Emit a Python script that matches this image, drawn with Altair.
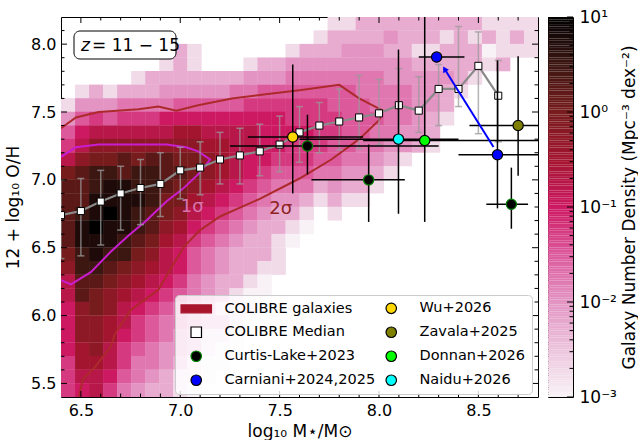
import altair as alt
import numpy as np
import pandas as pd

# ------------------------------------------------------------------ data
X_DOMAIN = [6.4, 8.8]
Y_DOMAIN = [5.4, 8.2]
Y_BIN = 0.1

# 2D histogram: one string per stellar-mass column (34 columns, 6.4 -> 8.8),
# characters run from the top O/H bin (8.1-8.2) down to the bottom bin (5.4-5.5).
# '.' = empty, 'a' = 1e-3, each next letter +0.25 dex ('m' = 1, 'q' = 10)
DENSITY_COLUMNS = [
    "......beghjmnnnnnmljjiiiihhh",
    ".....begijlnnnoppoonnlllkkji",
    ".....dehjlmooppqpponmmlllkjj",
    ".....begjlmoppqpponmllkkjjih",
    ".....dfhjlnnppppoomlkjjihhgf",
    "....bdfhjlmoopoonmlkjihhgffe",
    "....ddfhjlnooonnmlkjihggffed",
    "..dbdefijlnnnmmlkjjihgffeedd",
    "..dddegiklmnmmlkjiihgffeedbb",
    "..bbdegiklmmlkjihggffeeddbba",
    "....degijkllkjihgffeeddbbaa.",
    "....degijkkkjihgfeeddbdbaa..",
    "....dfgijjjjihgfedddbbbaa...",
    "...befhijjiihgfedddbaba.....",
    "...deghiiiihgfedddbaa.......",
    "...deghiiihgfeddbbb.........",
    "..befghhihhgfedba...........",
    "..defghhihhgfdba............",
    ".bdefghhhhgfdb..............",
    "bddefgghhggfedb.............",
    "bdeefgggggfedb..............",
    "ddeeffgggffedb..............",
    "ddeefffgffedb...............",
    "dedeeffffedb................",
    "dddeefffeeb.................",
    "ddbdeeeeed..................",
    "ddbdeeeddb..................",
    "dbddeddb....................",
    "dddddb......................",
    "dbddb.......................",
    "bdab........................",
    "bbbd........................",
    "bdb.........................",
    "bbb.........................",
]

# COLIBRE median relation
MED_X = [6.4, 6.5, 6.6, 6.7, 6.8, 6.9, 7.0, 7.1, 7.2, 7.3, 7.4, 7.5,
         7.6, 7.7, 7.8, 7.9, 8.0, 8.1, 8.2, 8.3, 8.4, 8.5, 8.6]
MED_Y = [6.74, 6.77, 6.84, 6.90, 6.94, 6.97, 7.07, 7.09, 7.15, 7.18, 7.21, 7.26,
         7.35, 7.40, 7.43, 7.46, 7.49, 7.55, 7.51, 7.67, 7.67, 7.84, 7.62]
MED_LO = [6.42, 6.44, 6.52, 6.63, 6.67, 6.73, 6.86, 6.89, 6.97, 6.97, 7.03, 7.06,
          7.13, 7.20, 7.22, 7.23, 7.26, 7.32, 7.35, 7.40, 7.54, 7.34, 7.28]
MED_HI = [7.00, 7.01, 7.07, 7.10, 7.15, 7.20, 7.24, 7.28, 7.35, 7.38, 7.41, 7.47,
          7.54, 7.57, 7.67, 7.77, 7.74, 7.82, 7.76, 7.85, 8.13, 8.09, 7.88]

# density contours
C1_X = [6.40, 6.475, 6.59, 6.76, 6.93, 7.03, 7.09, 7.15, 7.13, 7.09, 7.01, 6.93,
        6.83, 6.74, 6.65, 6.55, 6.45, 6.40]
C1_Y = [7.17, 7.24, 7.26, 7.26, 7.26, 7.24, 7.21, 7.15, 7.11, 7.04, 6.93, 6.84,
        6.70, 6.59, 6.47, 6.32, 6.23, 6.26]
C2_X = [6.40, 6.475, 6.59, 6.79, 6.89, 6.98, 7.09, 7.26, 7.43, 7.60, 7.80, 7.90,
        8.02, 8.00, 7.90, 7.76, 7.60, 7.40, 7.20, 7.10, 7.02, 6.95, 6.89, 6.75,
        6.67, 6.65, 6.57, 6.51, 6.49]
C2_Y = [7.38, 7.46, 7.50, 7.52, 7.54, 7.51, 7.55, 7.60, 7.63, 7.66, 7.70, 7.60,
        7.51, 7.44, 7.30, 7.15, 7.01, 6.86, 6.73, 6.63, 6.51, 6.34, 6.19, 6.04,
        5.86, 5.77, 5.62, 5.53, 5.40]
CONTOUR_LABELS = ["1σ", "2σ"]
CONTOUR_LABEL_X = [7.06, 7.505]
CONTOUR_LABEL_Y = [6.80, 6.785]

# observations
OBS_NAME = ["Wu+2026", "Curtis-Lake+2023", "Curtis-Lake+2023", "Curtis-Lake+2023",
            "Carniani+2024,2025", "Carniani+2024,2025", "Zavala+2025",
            "Donnan+2026", "Naidu+2026"]
OBS_X = [7.566, 7.64, 7.948, 8.666, 8.29, 8.596, 8.70, 8.23, 8.098]
OBS_Y = [7.316, 7.25, 7.00, 6.82, 7.905, 7.185, 7.40, 7.29, 7.30]
OBS_XLO = [7.34, 7.25, 7.66, 8.54, 8.20, 8.40, 8.455, 7.92, 7.60]
OBS_XHI = [7.92, 8.30, 8.13, 8.75, 8.43, 8.95, 8.95, 8.95, 8.40]
OBS_YLO = [6.90, 7.04, 6.69, 6.64, 7.905, 6.79, 7.03, 6.69, 6.75]
OBS_YHI = [7.85, 7.48, 7.26, 7.09, 7.905, 7.88, 7.91, 8.40, 7.96]

ARROW_X = [8.576, 8.33]
ARROW_Y = [7.242, 7.817]

# legend (column-major order, 2 columns)
LEG_LABELS = ["COLIBRE galaxies", "COLIBRE Median", "Curtis-Lake+2023", "Carniani+2024,2025",
              "Wu+2026", "Zavala+2025", "Donnan+2026", "Naidu+2026"]
LEG_FILL = ["#a8142c", "#ffffff", "#000000", "#0000ff",
            "#ffd700", "#808000", "#00ff00", "#00ffff"]
LEG_STROKE = ["#a8142c", "#000000", "#008000", "#000000",
              "#000000", "#000000", "#000000", "#000000"]
PATCH = "M-2.9,-0.75L2.9,-0.75L2.9,0.75L-2.9,0.75Z"
LEG_SHAPE = [PATCH, "square", "circle", "circle", "circle", "circle", "circle", "circle"]

# colour map (log10 density -> colour)
CB_LOG = [-3, -2.5, -2, -1.5, -1, -0.5, 0, 0.5, 1]
CB_COLORS = ["#f8f2f6", "#ecc4dc", "#e394c3", "#dc5a9c", "#cd1862",
             "#a3152f", "#771c1d", "#3c1611", "#000000"]
CB_TICKS = [1e-3, 1e-2, 1e-1, 1, 10]

X_MAJOR = [6.5, 7.0, 7.5, 8.0, 8.5]
Y_MAJOR = [5.5, 6.0, 6.5, 7.0, 7.5, 8.0]

# ------------------------------------------------------------------ build
W, H = 477, 380
FONT = "DejaVu Sans"

nx = len(DENSITY_COLUMNS)
xw = (X_DOMAIN[1] - X_DOMAIN[0]) / nx
recs = []
for i, col in enumerate(DENSITY_COLUMNS):
    for k, ch in enumerate(col):
        if ch == ".":
            continue
        lg = -3 + 0.25 * (ord(ch) - ord("a"))
        recs.append({
            "x0": X_DOMAIN[0] + i * xw,
            "x1": X_DOMAIN[0] + (i + 1) * xw + 0.002,
            "y0": Y_DOMAIN[1] - (k + 1) * Y_BIN,
            "y1": Y_DOMAIN[1] - k * Y_BIN + 0.002,
            "dens": 10 ** lg,
        })
heat_df = pd.DataFrame(recs)

xscale = alt.Scale(domain=X_DOMAIN, nice=False, zero=False)
yscale = alt.Scale(domain=Y_DOMAIN, nice=False, zero=False)
xaxis = alt.Axis(values=X_MAJOR, format=".1f", ticks=False, tickSize=0, domain=False,
                 grid=False, labelFontSize=16, labelPadding=5, labelOverlap=False,
                 title="log₁₀ M⋆/M⊙", titleFontSize=17, titleFontWeight="normal",
                 titlePadding=5)
yaxis = alt.Axis(values=Y_MAJOR, format=".1f", ticks=False, tickSize=0, domain=False,
                 grid=False, labelFontSize=16, labelPadding=5, labelOverlap=False,
                 title="12 + log₁₀ O/H", titleFontSize=17, titleFontWeight="normal",
                 titlePadding=8)


def X(f):
    return alt.X(f"{f}:Q", scale=xscale, axis=xaxis)


def Y(f):
    return alt.Y(f"{f}:Q", scale=yscale, axis=yaxis)


cscale = alt.Scale(type="log", domain=[10 ** v for v in CB_LOG], range=CB_COLORS,
                   interpolate="rgb")

legend = alt.Legend(title=None, orient="none", legendX=114, legendY=278, columns=2,
                    fillColor="rgba(255,255,255,0.8)", strokeColor="#cccccc",
                    cornerRadius=4, padding=6, symbolSize=110, symbolStrokeWidth=1.2,
                    labelFont=FONT, labelFontSize=14.5, labelColor="black",
                    labelOffset=21, symbolOffset=8, columnPadding=0, rowPadding=8,
                    labelLimit=400, zindex=1)
fill_enc = alt.Fill("label:N", scale=alt.Scale(domain=LEG_LABELS, range=LEG_FILL), legend=legend)
stroke_enc = alt.Stroke("label:N", scale=alt.Scale(domain=LEG_LABELS, range=LEG_STROKE), legend=legend)
shape_enc = alt.Shape("label:N", scale=alt.Scale(domain=LEG_LABELS, range=LEG_SHAPE), legend=legend)

heat = alt.Chart(heat_df).mark_rect(clip=True).encode(
    x=X("x0"), x2="x1", y=Y("y0"), y2="y1",
    color=alt.Color("dens:Q", scale=cscale, legend=None))

c1 = alt.Chart(pd.DataFrame({"x": C1_X, "y": C1_Y, "o": range(len(C1_X))})).mark_line(
    color="#c81ecf", strokeWidth=2, clip=True).encode(x=X("x"), y=Y("y"), order="o:Q")
c2 = alt.Chart(pd.DataFrame({"x": C2_X, "y": C2_Y, "o": range(len(C2_X))})).mark_line(
    color="#ad2a2c", strokeWidth=2, clip=True).encode(x=X("x"), y=Y("y"), order="o:Q")

lab_df = pd.DataFrame({"x": CONTOUR_LABEL_X, "y": CONTOUR_LABEL_Y, "t": CONTOUR_LABELS})
lab1 = alt.Chart(lab_df.iloc[[0]]).mark_text(font=FONT, fontSize=18, color="#d873ad").encode(
    x=X("x"), y=Y("y"), text="t:N")
lab2 = alt.Chart(lab_df.iloc[[1]]).mark_text(font=FONT, fontSize=18, color="#8e2323").encode(
    x=X("x"), y=Y("y"), text="t:N")

med_df = pd.DataFrame({"x": MED_X, "y": MED_Y, "lo": MED_LO, "hi": MED_HI,
                       "label": ["COLIBRE Median"] * len(MED_X)})
med_err = alt.Chart(med_df).mark_rule(color="#9a9a9a", opacity=0.75, strokeWidth=1.5,
                                      clip=True).encode(x=X("x"), y=Y("lo"), y2="hi")
med_cap_lo = alt.Chart(med_df).mark_tick(color="#9a9a9a", opacity=0.75, thickness=1.5,
                                         size=7, orient="horizontal", clip=True).encode(
    x=X("x"), y=Y("lo"))
med_cap_hi = alt.Chart(med_df).mark_tick(color="#9a9a9a", opacity=0.75, thickness=1.5,
                                         size=7, orient="horizontal", clip=True).encode(
    x=X("x"), y=Y("hi"))
med_line = alt.Chart(med_df).mark_line(color="#8a8a8a", strokeWidth=2.2, clip=True).encode(
    x=X("x"), y=Y("y"), order="x:Q")
med_pts = alt.Chart(med_df).mark_point(filled=True, size=50, strokeWidth=1, opacity=1,
                                       clip=True).encode(
    x=X("x"), y=Y("y"), fill=fill_enc, stroke=stroke_enc, shape=shape_enc)

obs_df = pd.DataFrame({"label": OBS_NAME, "x": OBS_X, "y": OBS_Y, "xlo": OBS_XLO,
                       "xhi": OBS_XHI, "ylo": OBS_YLO, "yhi": OBS_YHI})
obs_h = alt.Chart(obs_df).mark_rule(color="black", strokeWidth=1.5, clip=True).encode(
    x=X("xlo"), x2="xhi", y=Y("y"))
obs_v = alt.Chart(obs_df).mark_rule(color="black", strokeWidth=1.5, clip=True).encode(
    x=X("x"), y=Y("ylo"), y2="yhi")
obs_pts = alt.Chart(obs_df).mark_point(filled=True, size=105, strokeWidth=1.2, opacity=1,
                                       clip=True).encode(
    x=X("x"), y=Y("y"), fill=fill_enc, stroke=stroke_enc, shape=shape_enc)

# arrow (direction angle from the pixel aspect of the axes)
dxp = (ARROW_X[1] - ARROW_X[0]) * W / (X_DOMAIN[1] - X_DOMAIN[0])
dyp = (ARROW_Y[1] - ARROW_Y[0]) * H / (Y_DOMAIN[1] - Y_DOMAIN[0])
ang = float(np.degrees(np.arctan2(dxp, dyp))) % 360
arrow_df = pd.DataFrame({"x": ARROW_X, "y": ARROW_Y, "o": [0, 1]})
arrow_line = alt.Chart(arrow_df).mark_line(color="#0000ff", strokeWidth=2).encode(
    x=X("x"), y=Y("y"), order="o:Q")
arrow_head = alt.Chart(arrow_df.iloc[[1]]).mark_point(
    shape="triangle-up", filled=True, color="#0000ff", size=45, angle=ang, opacity=1).encode(
    x=X("x"), y=Y("y"))


def tick_layer(vals, side, length):
    df = pd.DataFrame({"v": vals})
    if side == "bottom":
        enc = dict(x=X("v"), y=alt.value(H), y2=alt.value(H - length))
    elif side == "top":
        enc = dict(x=X("v"), y=alt.value(0), y2=alt.value(length))
    elif side == "left":
        enc = dict(y=Y("v"), x=alt.value(0), x2=alt.value(length))
    else:
        enc = dict(y=Y("v"), x=alt.value(W), x2=alt.value(W - length))
    return alt.Chart(df).mark_rule(color="black", strokeWidth=1).encode(**enc)


x_minor = [round(v, 1) for v in np.arange(6.5, 8.75, 0.1) if round(v, 1) not in X_MAJOR]
y_minor = [round(v, 1) for v in np.arange(5.5, 8.15, 0.1) if round(v, 1) not in Y_MAJOR]
ticks = []
for side in ["bottom", "top"]:
    ticks.append(tick_layer(X_MAJOR, side, 6))
    ticks.append(tick_layer(x_minor, side, 3.5))
for side in ["left", "right"]:
    ticks.append(tick_layer(Y_MAJOR, side, 6))
    ticks.append(tick_layer(y_minor, side, 3.5))

one = pd.DataFrame({"a": [0]})
zbox = alt.Chart(one).mark_rect(fill="white", stroke="black", strokeWidth=1,
                                cornerRadius=6).encode(
    x=alt.value(13), x2=alt.value(115), y=alt.value(14), y2=alt.value(42))
ztxt = alt.Chart(one).mark_text(text="z", font=FONT, fontSize=17, fontStyle="italic",
                                align="left", baseline="middle", color="black").encode(
    x=alt.value(20), y=alt.value(28.5))
ztxt2 = alt.Chart(one).mark_text(text="= 11 − 15", font=FONT, fontSize=17,
                                 align="left", baseline="middle", color="black").encode(
    x=alt.value(31), y=alt.value(28.5))

main = alt.layer(
    heat, c2, c1, lab1, lab2, med_err, med_cap_lo, med_cap_hi, med_line, med_pts,
    obs_h, obs_v, arrow_line, arrow_head, obs_pts, *ticks, zbox, ztxt, ztxt2
).properties(width=W, height=H)

# colour bar
edges = np.linspace(CB_LOG[0], CB_LOG[-1], 161)
cb_df = pd.DataFrame({"lo": 10 ** edges[:-1], "hi": 10 ** edges[1:],
                      "dens": 10 ** ((edges[:-1] + edges[1:]) / 2)})
cb_yscale = alt.Scale(type="log", domain=[1e-3, 10], nice=False)
lbl = "round(log(datum.value)/LN10)"
cb_expr = (f"{lbl} == 1 ? '10¹' : {lbl} == 0 ? '10⁰' : {lbl} == -1 ? '10⁻¹' : "
           f"{lbl} == -2 ? '10⁻²' : '10⁻³'")
cb_axis = alt.Axis(orient="right", values=CB_TICKS, labelExpr=cb_expr, ticks=False,
                   tickSize=0, domain=False, grid=False, labelFontSize=17, labelPadding=6,
                   labelOverlap=False, title="Galaxy Number Density (Mpc⁻³ dex⁻²)",
                   titleAngle=270, titleBaseline="top", titleFontSize=17,
                   titleFontWeight="normal", titlePadding=5)
cbar_rect = alt.Chart(cb_df).mark_rect().encode(
    x=alt.value(0), x2=alt.value(25),
    y=alt.Y("lo:Q", scale=cb_yscale, axis=cb_axis), y2="hi",
    color=alt.Color("dens:Q", scale=cscale, legend=None))
cb_minor = [m * 10.0 ** e for e in range(-3, 1) for m in range(2, 10)]


def cb_ticks(vals, length):
    return alt.Chart(pd.DataFrame({"v": vals})).mark_rule(color="black", strokeWidth=1).encode(
        y=alt.Y("v:Q", scale=cb_yscale, axis=cb_axis), x=alt.value(25), x2=alt.value(25 - length))


cbar = alt.layer(cbar_rect, cb_ticks(CB_TICKS, 6), cb_ticks(cb_minor, 3.5)).properties(
    width=25, height=H)

chart = alt.hconcat(main, cbar, spacing=8).resolve_scale(
    fill="independent", stroke="independent", shape="independent"
).resolve_legend(
    fill="independent", stroke="independent", shape="independent"
).configure(
    font=FONT, padding={"left": 4, "top": 7, "right": 0, "bottom": 0}
).configure_view(
    stroke="black", strokeWidth=1
).configure_axis(
    labelFont=FONT, titleFont=FONT, labelColor="black", titleColor="black"
)

chart.save("out.html", embed_options={"renderer": "svg", "actions": False})
